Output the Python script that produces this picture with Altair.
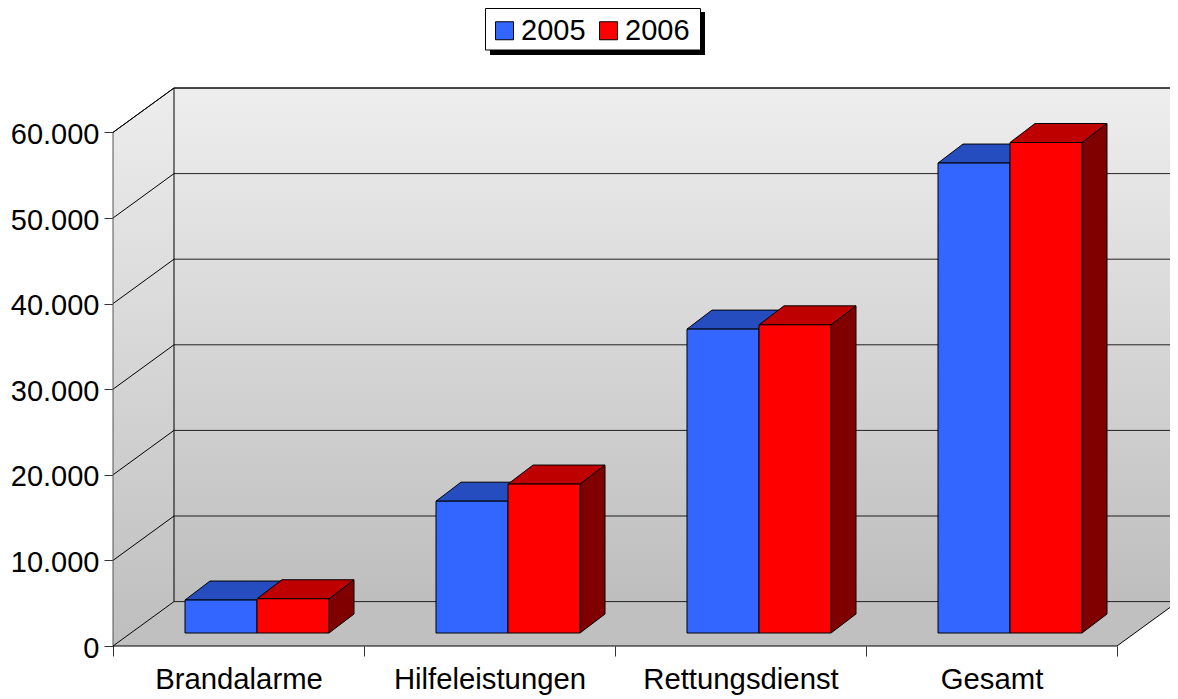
import altair as alt
import pandas as pd

categories = ["Brandalarme", "Hilfeleistungen", "Rettungsdienst", "Gesamt"]
years = ["2005", "2006"]
values_2005 = [3850, 15400, 35500, 54900]
values_2006 = [4000, 17400, 36000, 57300]
y_ticks = [0, 10000, 20000, 30000, 40000, 50000, 60000]

FONT = "Liberation Sans"
PX_X = 251.0              # pixels per category
PX_Y = 85.6 / 10000.0     # pixels per value unit
WALL_DX = 61 / PX_X
WALL_DY = 44.4 / PX_Y
BAR_DX = 25 / PX_X
BAR_DY = 19 / PX_Y
BAR_W = 72 / PX_X
BAR_LEFT = 72 / PX_X
BAR_BASE = 13 / PX_Y
Y_TOP = 60000 + WALL_DY
X_TOP = len(categories) + WALL_DX

xs = alt.Scale(domain=[0, X_TOP], nice=False, zero=False)
ys = alt.Scale(domain=[0, Y_TOP], nice=False, zero=False)
X = lambda f="x", **k: alt.X(f"{f}:Q", scale=xs, title=None, **k)
Y = lambda f="y", **k: alt.Y(f"{f}:Q", scale=ys, title=None, stack=None, **k)


def grad(top, bottom):
    return alt.Gradient(gradient="linear", x1=0, x2=0, y1=0, y2=1,
                        stops=[alt.GradientStop(color=top, offset=0),
                               alt.GradientStop(color=bottom, offset=1)])


# ----- walls and floor -----
back = alt.Chart(pd.DataFrame({"x": [WALL_DX, X_TOP], "y": [WALL_DY] * 2, "y2": [Y_TOP] * 2})).mark_area(
    orient="vertical", color=grad("#EEEEEE", "#BEBEBE")).encode(x=X(), y=Y(), y2="y2:Q")

left = alt.Chart(pd.DataFrame({"x": [0, WALL_DX], "y": [0, WALL_DY], "y2": [60000, Y_TOP]})).mark_area(
    orient="vertical", color=grad("#EDEDED", "#BEBEBE")).encode(x=X(), y=Y(), y2="y2:Q")

floor = alt.Chart(pd.DataFrame({"y": [0, WALL_DY], "x": [0, WALL_DX], "x2": [len(categories), X_TOP]})).mark_area(
    orient="horizontal", color="#C0C0C0").encode(y=Y(), x=X(), x2="x2:Q")

# ----- grid lines -----
back_grid = pd.DataFrame({"x": WALL_DX, "x2": X_TOP, "y": [v + WALL_DY for v in y_ticks]})
grid_back = alt.Chart(back_grid).mark_rule(color="#000000", strokeWidth=1, opacity=0.85).encode(
    x=X(), x2="x2:Q", y=Y())

side_rows = []
for v in y_ticks:
    side_rows += [{"id": v, "o": 0, "x": 0, "y": v}, {"id": v, "o": 1, "x": WALL_DX, "y": v + WALL_DY}]
grid_side = alt.Chart(pd.DataFrame(side_rows)).mark_line(color="#000000", strokeWidth=1).encode(
    x=X(), y=Y(), detail="id:N", order="o:Q")

frame_rows = [
    {"id": "backv", "o": 0, "x": WALL_DX, "y": WALL_DY}, {"id": "backv", "o": 1, "x": WALL_DX, "y": Y_TOP},
    {"id": "top", "o": 0, "x": 0, "y": 60000}, {"id": "top", "o": 1, "x": WALL_DX, "y": Y_TOP},
    {"id": "top", "o": 2, "x": X_TOP, "y": Y_TOP},
    {"id": "base", "o": 0, "x": 0, "y": 0}, {"id": "base", "o": 1, "x": len(categories), "y": 0},
    {"id": "base", "o": 2, "x": X_TOP, "y": WALL_DY},
]
frame = alt.Chart(pd.DataFrame(frame_rows)).mark_line(color="#000000", strokeWidth=1).encode(
    x=X(), y=Y(), detail="id:N", order="o:Q")
left_edge = alt.Chart(pd.DataFrame({"x": [0], "y": [0], "y2": [60000]})).mark_rule(
    color="#555555", strokeWidth=1).encode(x=X(), y=Y(), y2="y2:Q")

# ----- bars -----
front_rows, side_r, top_r = [], [], []
for s, (year, vals) in enumerate(zip(years, [values_2005, values_2006])):
    for i, v in enumerate(vals):
        l = i + BAR_LEFT + s * BAR_W
        r = l + BAR_W
        t = BAR_BASE + v
        front_rows.append({"Jahr": year, "x": l, "x2": r, "y": BAR_BASE, "y2": t})
        side_r += [{"Jahr": year, "id": i, "x": r, "y": BAR_BASE, "y2": t},
                   {"Jahr": year, "id": i, "x": r + BAR_DX, "y": BAR_BASE + BAR_DY, "y2": t + BAR_DY}]
        top_r += [{"Jahr": year, "id": i, "y": t, "x": l, "x2": r},
                  {"Jahr": year, "id": i, "y": t + BAR_DY, "x": l + BAR_DX, "x2": r + BAR_DX}]
side_df, top_df = pd.DataFrame(side_r), pd.DataFrame(top_r)


def side(year, color):
    return alt.Chart(side_df[side_df.Jahr == year]).mark_area(
        orient="vertical", color=color, stroke="#000000", strokeWidth=1).encode(
        x=X(), y=Y(), y2="y2:Q", detail="id:N")


def top(year, color):
    return alt.Chart(top_df[top_df.Jahr == year]).mark_area(
        orient="horizontal", color=color, stroke="#000000", strokeWidth=1).encode(
        y=Y(), x=X(), x2="x2:Q", detail="id:N")


label_expr = "datum.value % 1 === 0 ? '' : " + str(categories) + "[floor(datum.value)]"
x_axis = alt.Axis(
    values=[k / 2 for k in range(2 * len(categories) + 1)], grid=False, domain=False,
    tickSize=10, tickColor="#333333", tickWidth=1,
    tickOpacity={"condition": {"test": "datum.value % 1 === 0", "value": 1}, "value": 0},
    labelExpr=label_expr, labelFont=FONT, labelFontSize=29.3, labelColor="#000000", labelLimit=400,
    labelPadding=9, labelOverlap=False, labelFlush=False, labelBound=False, labelAngle=0)
y_axis = alt.Axis(
    values=y_ticks, grid=False, domain=False, tickSize=9, tickColor="#333333", tickWidth=1,
    labelExpr="replace(format(datum.value, ','), ',', '.')", labelFont=FONT, labelFontSize=29,
    labelColor="#000000", labelPadding=5, labelOverlap=False, labelBound=False, labelLimit=200,
    labelOffset=2)

fronts = alt.Chart(pd.DataFrame(front_rows)).mark_rect(stroke="#000000", strokeWidth=1).encode(
    x=alt.X("x:Q", scale=xs, title=None, axis=x_axis),
    x2="x2:Q",
    y=alt.Y("y:Q", scale=ys, title=None, axis=y_axis),
    y2="y2:Q",
    color=alt.Color("Jahr:N", scale=alt.Scale(domain=years, range=["#3366FF", "#FF0000"]),
                    legend=alt.Legend(
                        orient="none", legendX=371, legendY=-78, direction="horizontal", columns=2,
                        title=None, symbolType="square", symbolSize=324, symbolStrokeColor="#000000",
                        symbolStrokeWidth=1, labelFont=FONT, labelFontSize=29, labelColor="#000000",
                        labelOffset=2, columnPadding=8, padding=6, symbolOpacity=1)),
)

shadow = alt.Chart(pd.DataFrame({"a": [0]})).mark_rect(color="#000000").encode(
    x=alt.value(377), x2=alt.value(592), y=alt.value(-76), y2=alt.value(-33))
legend_box = alt.Chart(pd.DataFrame({"a": [0]})).mark_rect(
    color="#FFFFFF", stroke="#000000", strokeWidth=1).encode(
    x=alt.value(372.5), x2=alt.value(587.5), y=alt.value(-79.5), y2=alt.value(-38))

chart = alt.layer(
    back, left, floor, grid_back, grid_side, left_edge, frame,
    shadow, legend_box,
    side("2005", "#264DBF"), top("2005", "#264DBF"),
    side("2006", "#800000"), top("2006", "#BF0000"),
    fronts,
).properties(
    width=1065, height=558,
    padding={"left": 105, "top": 80, "right": -8, "bottom": 52},
    autosize=alt.AutoSizeParams(type="none"),
    background="#FFFFFF",
).configure_view(stroke=None)

chart.save("out.html", embed_options={"renderer": "svg", "actions": False})
